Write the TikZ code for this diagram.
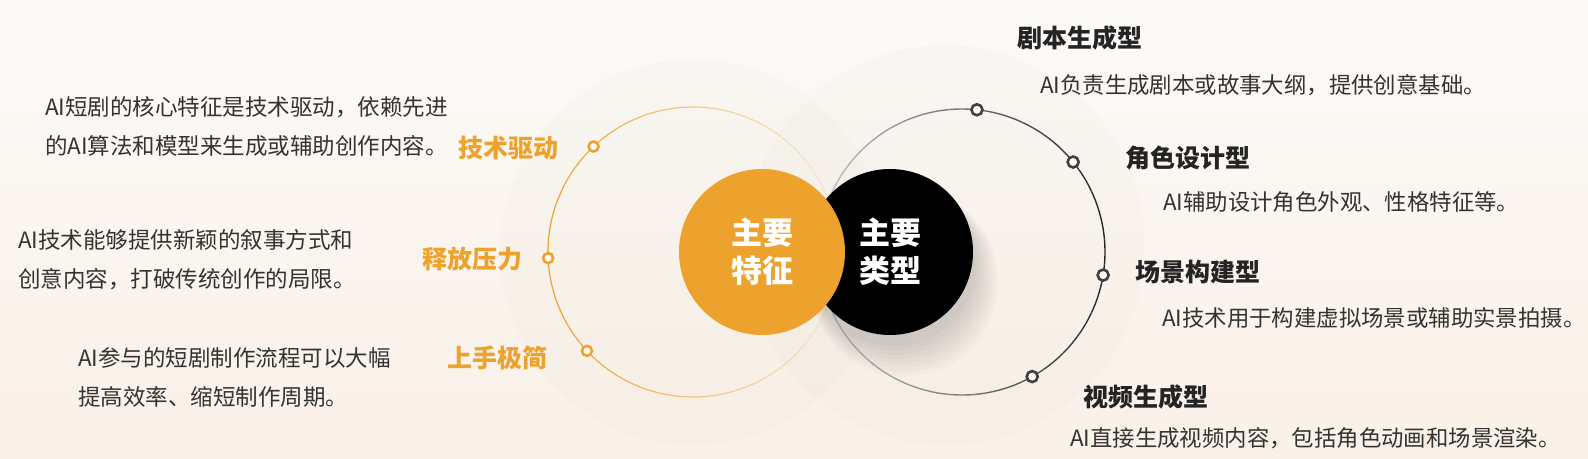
\documentclass[tikz,border=0pt]{standalone}
\usepackage{fontspec}
\setmainfont{Noto Sans CJK SC}
\usetikzlibrary{positioning}

\definecolor{forange}{RGB}{238,162,46}
\definecolor{bgtop}{RGB}{252,250,248}
\definecolor{bgbot}{RGB}{250,241,232}
\definecolor{txtgray}{RGB}{51,51,51}
\definecolor{headgray}{RGB}{36,36,36}
\definecolor{halo}{RGB}{120,95,80}

\tikzset{
  desc/.style={anchor=west, inner sep=0pt, align=left, text=txtgray, font=\fontsize{22.5}{39}\selectfont},
  featlabel/.style={anchor=west, inner sep=0pt, text=forange, font=\fontsize{25}{30}\selectfont\bfseries},
  typelabel/.style={anchor=west, inner sep=0pt, text=headgray, font=\fontsize{25}{30}\selectfont\bfseries},
  typedesc/.style={anchor=west, inner sep=0pt, text=txtgray, font=\fontsize{22.4}{26}\selectfont},
  bigdisk/.style={circle, minimum size=166pt, inner sep=0pt, align=center, text=white, font=\fontsize{31}{38}\selectfont\bfseries},
  odot/.style={circle, draw=forange, line width=2.6pt, fill=bgtop, minimum size=10pt, inner sep=0pt},
  kdot/.style={circle, draw=black!75, line width=2.6pt, fill=bgtop, minimum size=11pt, inner sep=0pt},
}

\begin{document}
\begin{tikzpicture}[x=1pt, y=-1pt]

  % Bounding box of the scheme
  \useasboundingbox (0,0) rectangle (1588,458) ;
  \shade[top color=bgtop, bottom color=bgbot] (0,0) rectangle (1588,458) ;

  %%%%%%%%%%%%%%%%%%%%%%%%%%%%%%%%% Halos behind the rings %%%%%%%%%%%%%%%%%%%%%%%%%%%%%%%%%%%%
  \fill[halo, opacity=0.018] (693,252) circle (193pt) ;
  \fill[halo, opacity=0.018] (945,245) circle (200pt) ;

  % Ring centres
  \coordinate (fc) at (693,252) ;
  \coordinate (tc) at (962,252) ;

  %%%%%%%%%%%%%%%%%%%%%%%%%%%%%%%%%%%% Rings %%%%%%%%%%%%%%%%%%%%%%%%%%%%%%%%%%%%%%%%%%%%%%%%%
  \foreach \a [evaluate=\a as \o using {0.1+0.9*(1-cos(\a))/2}] in {0,5,...,355} {
    \draw[forange, line width=1.2pt, opacity=\o] (fc) ++(\a:145pt) arc[start angle=\a, delta angle=5, radius=145pt] ;
  }
  \foreach \a [evaluate=\a as \m using {22+62*(1+cos(\a))/2}] in {0,5,...,355} {
    \draw[black!\m, line width=1.4pt] (tc) ++(\a:143pt) arc[start angle=\a, delta angle=5, radius=143pt] ;
  }

  %%%%%%%%%%%%%%%%%%%%%%%%%%%%%%%%%%%% Central disks %%%%%%%%%%%%%%%%%%%%%%%%%%%%%%%%%%%%%%%%%
  % soft shadow of the black disk
  \foreach \k in {1,...,8} {
    \fill[black, opacity=0.018] (892+\k*1.5, 262+\k*2.5) circle [radius=80pt+\k*1.8pt] ;
  }
  \node[bigdisk, fill=black] (types) at (890,252) {主要\\类型} ;
  \node[bigdisk, fill=forange] (feats) at (762,252) {主要\\特征} ;

  %%%%%%%%%%%%%%%%%%%%%%%%%% Points on the rings %%%%%%%%%%%%%%%%%%%%%%%%%%%%%%%%%%%%%%%%%%%%%
  \foreach \ang/\nm in {133.3/f1, 182.4/f2, 223/f3} {
    \path (fc) ++(\ang:145pt) node[odot] (\nm) {} ;
  }
  \foreach \ang/\nm in {84/t1, 39/t2, -9.3/t3, -60.6/t4} {
    \path (tc) ++(\ang:143pt) node[kdot] (\nm) {} ;
  }

  %%%%%%%%%%%%%%%%%%%%%%%%%%%%%%%%%%%% Features (left) %%%%%%%%%%%%%%%%%%%%%%%%%%%%%%%%%%%%%%%
  \node[featlabel] (fl1) at (458,148) {技术驱动} ;
  \node[featlabel] (fl2) at (422,259) {释放压力} ;
  \node[featlabel] (fl3) at (447,358) {上手极简} ;

  \node[desc] (fd1) at (45,126) {AI短剧的核心特征是技术驱动，依赖先进\\的AI算法和模型来生成或辅助创作内容。} ;
  \node[desc] (fd2) at (18,260) {AI技术能够提供新颖的叙事方式和\\创意内容，打破传统创作的局限。} ;
  \node[desc] (fd3) at (78,377) {AI参与的短剧制作流程可以大幅\\提高效率、缩短制作周期。} ;

  %%%%%%%%%%%%%%%%%%%%%%%%%%%%%%%%%%%% Types (right) %%%%%%%%%%%%%%%%%%%%%%%%%%%%%%%%%%%%%%%%%
  \node[typelabel] (tl1) at (1017,38) {剧本生成型} ;
  \node[typelabel] (tl2) at (1125,158) {角色设计型} ;
  \node[typelabel] (tl3) at (1135,272) {场景构建型} ;
  \node[typelabel] (tl4) at (1083,397) {视频生成型} ;

  \node[typedesc] (td1) at (1040,85) {AI负责生成剧本或故事大纲，提供创意基础。} ;
  \node[typedesc] (td2) at (1163,202) {AI辅助设计角色外观、性格特征等。} ;
  \node[typedesc] (td3) at (1162,318) {AI技术用于构建虚拟场景或辅助实景拍摄。} ;
  \node[typedesc] (td4) at (1070,438) {AI直接生成视频内容，包括角色动画和场景渲染。} ;

\end{tikzpicture}
\end{document}
